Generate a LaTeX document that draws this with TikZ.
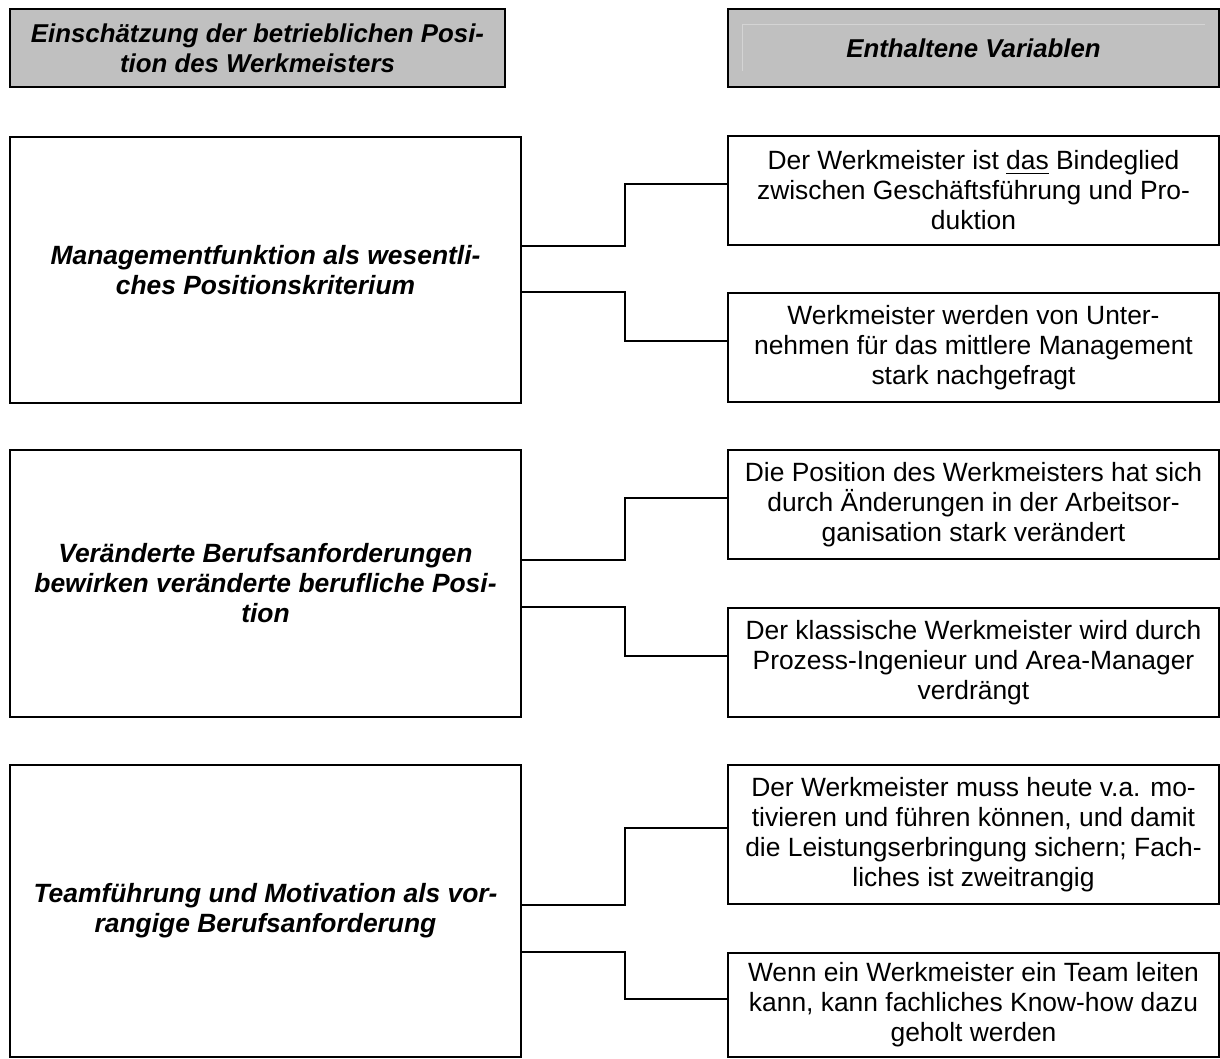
\documentclass[tikz,border=0pt]{standalone}
\usepackage{fontspec}
\setmainfont{Liberation Sans}
\usetikzlibrary{positioning,calc}

\begin{document}
\begin{tikzpicture}[x=0.5pt,y=-0.5pt,line join=miter,
  font=\fontsize{13.2}{15}\selectfont,
  kopf/.style={draw,line width=1.3pt,fill=kopfgrau,inner sep=0pt,align=center,
    minimum height=39pt,font=\fontsize{12.9}{15}\selectfont\bfseries\itshape},
  posbox/.style={draw,line width=1pt,inner sep=0pt,align=center,minimum width=255.5pt,
    font=\fontsize{13.2}{15}\selectfont\bfseries\itshape},
  varbox/.style={draw,line width=1pt,inner sep=0pt,align=center,minimum width=245.5pt},
  link/.style={line width=1pt}]

  \definecolor{kopfgrau}{RGB}{192,192,192}
  \definecolor{kantehell}{RGB}{212,212,212}

  \useasboundingbox (0,0) rectangle (1220,1059);

  % ---- headers ----
  \node[kopf,minimum width=247.5pt] (kopfL) at (257.5,48)
    {Einschätzung der betrieblichen Posi-\\tion des Werkmeisters};
  \node[kopf,minimum width=245.5pt] (kopfR) at (973.5,48) {};
  \draw[kantehell,line width=0.4pt] (742,71) |- (1205,24);
  \node[font=\fontsize{12.9}{15}\selectfont\bfseries\itshape] at (kopfR) {Enthaltene Variablen};

  % ---- positions (left) ----
  \node[posbox,minimum height=133pt] (pos1) at (265.5,270)
    {Managementfunktion als wesentli-\\ches Positionskriterium};
  \node[posbox,minimum height=133.5pt] (pos2) at (265.5,583.5)
    {Veränderte Berufsanforderungen\\bewirken veränderte berufliche Posi-\\tion};
  \node[posbox,minimum height=146pt] (pos3) at (265.5,911)
    {Teamführung und Motivation als vor-\\rangige Berufsanforderung};

  % ---- variables (right) ----
  \node[varbox,minimum height=54.5pt] (var1) at (973.5,190.5)
    {Der Werkmeister ist \underline{das} Bindeglied\\zwischen Geschäftsführung und Pro-\\duktion};
  \node[varbox,minimum height=54.5pt] (var2) at (973.5,347.5)
    {Werkmeister werden von Unter-\\nehmen für das mittlere Management\\stark nachgefragt};
  \node[varbox,minimum height=54.5pt] (var3) at (973.5,504.5)
    {Die Position des Werkmeisters hat sich\\durch Änderungen in der Arbeitsor-\\ganisation stark verändert};
  \node[varbox,minimum height=54.5pt] (var4) at (973.5,662.5)
    {Der klassische Werkmeister wird durch\\Prozess-Ingenieur und Area-Manager\\verdrängt};
  \node[varbox,minimum height=69.5pt] (var5) at (973.5,834.5)
    {Der Werkmeister muss heute v.a. mo-\\tivieren und führen können, und damit\\die Leistungserbringung sichern; Fach-\\liches ist zweitrangig};
  \node[varbox,minimum height=52pt] (var6) at (973.5,1005)
    {Wenn ein Werkmeister ein Team leiten\\kann, kann fachliches Know-how dazu\\geholt werden};

  % ---- connectors ----
  \foreach \p/\a/\b in {pos1/var1/var2,pos2/var3/var4,pos3/var5/var6} {
    \coordinate (\a in) at ([yshift=3.25pt]\a.west);
    \coordinate (\b in) at ([yshift=3.25pt]\b.west);
    \draw[link] (\p.east |- \a.south) -| ($(\p.east)!.5!(\a.west)$) |- (\a in);
    \draw[link] (\p.east |- \b.north) -| ($(\p.east)!.5!(\b.west)$) |- (\b in);
  }
\end{tikzpicture}
\end{document}
